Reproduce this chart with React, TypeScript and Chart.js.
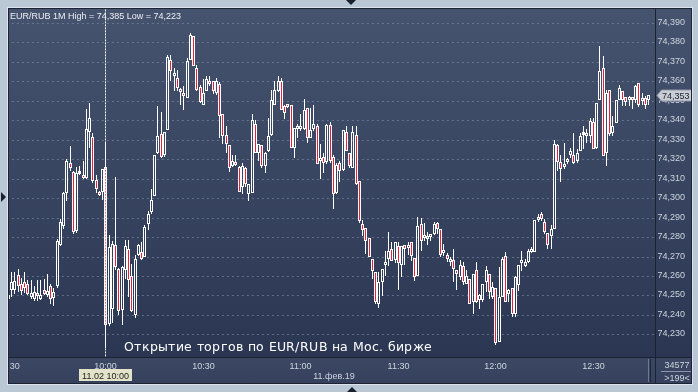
import React, { useEffect, useRef } from 'react';
import { Chart, registerables, CategoryScale, LinearScale } from 'chart.js';

// Scales that snap mark positions to the device pixel grid (crisp 1px candles)
class SnapCategoryScale extends CategoryScale {
  static id = 'snapCategory';
  static defaults = CategoryScale.defaults;
  getPixelForValue(value: any, index?: number) {
    const p = (super.getPixelForValue as any)(value, index);
    return Math.floor(p) + 0.5;
  }
}
class SnapLinearScale extends LinearScale {
  static id = 'snapLinear';
  static defaults = LinearScale.defaults;
  getPixelForValue(value: any) {
    const p = super.getPixelForValue(value);
    return Math.round(p);
  }
}

Chart.register(...registerables, SnapCategoryScale, SnapLinearScale);

// ---- Data (EUR/RUB, 1-minute candles from 09:30) ----
const START_MINUTE = 9 * 60 + 30;
const CATEGORY_COUNT = 199;
const X_TICK_EVERY = 30;

const OPEN = [
  74.248, 74.253, 74.253, 74.2607, 74.256, 74.257, 74.256, 74.249, 74.248, 74.251,
  74.248, 74.253, 74.2503, 74.255, 74.2488, 74.2548, 74.276, 74.2857, 74.3025, 74.318,
  74.3135, 74.283, 74.3125, 74.312, 74.3105, 74.334, 74.3314, 74.3096, 74.3033, 74.303,
  74.316, 74.2355, 74.243, 74.276, 74.2638, 74.2425, 74.263, 74.274, 74.26, 74.24,
  74.2707, 74.2723, 74.2698, 74.2868, 74.2928, 74.301, 74.3231, 74.3328, 74.3221, 74.3349,
  74.3711, 74.363, 74.3618, 74.3558, 74.3538, 74.3516, 74.3711, 74.3831, 74.3669, 74.357,
  74.3481, 74.355, 74.36, 74.36, 74.3541, 74.3589, 74.343, 74.3327, 74.3271, 74.3166,
  74.3188, 74.316, 74.3055, 74.3157, 74.302, 74.3029, 74.3379, 74.3234, 74.3271, 74.3166,
  74.3242, 74.3327, 74.3481, 74.3549, 74.36, 74.3472, 74.3481, 74.3481, 74.3259, 74.3356,
  74.3353, 74.3353, 74.3464, 74.331, 74.3356, 74.337, 74.319, 74.3213, 74.3185, 74.3375,
  74.321, 74.3028, 74.3181, 74.3147, 74.3338, 74.3233, 74.3156, 74.3326, 74.3088, 74.2866,
  74.2846, 74.2798, 74.2687, 74.2619, 74.2457, 74.2568, 74.2657, 74.2687, 74.2738, 74.2684,
  74.2756, 74.2657, 74.2759, 74.2745, 74.2773, 74.2691, 74.2602, 74.2866, 74.2798, 74.279,
  74.2799, 74.2815, 74.2875, 74.2844, 74.272, 74.271, 74.2671, 74.268, 74.2629, 74.2595,
  74.2649, 74.256, 74.2586, 74.2467, 74.2629, 74.2479, 74.2475, 74.2569, 74.2608, 74.2492,
  74.254, 74.2262, 74.2492, 74.2705, 74.2509, 74.254, 74.2407, 74.2552, 74.2666, 74.2654,
  74.2671, 74.2722, 74.2722, 74.2888, 74.2918, 74.288, 74.2819, 74.2805, 74.2843, 74.3272,
  74.3187, 74.3158, 74.3187, 74.3221, 74.322, 74.3192, 74.3243, 74.3323, 74.332, 74.332,
  74.3391, 74.326, 74.3507, 74.3669, 74.3231, 74.3558, 74.3337, 74.3388, 74.3507, 74.355,
  74.352, 74.3507, 74.352, 74.3504, 74.3592, 74.3498, 74.3516, 74.3504,
];

const HIGH = [
  74.251, 74.262, 74.262, 74.2635, 74.259, 74.262, 74.258, 74.258, 74.255, 74.258,
  74.258, 74.2585, 74.261, 74.256, 74.254, 74.279, 74.2895, 74.303, 74.32, 74.327,
  74.314, 74.316, 74.3163, 74.319, 74.346, 74.349, 74.3335, 74.3119, 74.3035, 74.3151,
  74.3287, 74.281, 74.278, 74.3107, 74.2643, 74.2652, 74.2783, 74.2783, 74.266, 74.2706,
  74.2765, 74.2774, 74.286, 74.2936, 74.3047, 74.322, 74.3473, 74.3442, 74.334, 74.3737,
  74.3737, 74.3669, 74.366, 74.3567, 74.3575, 74.372, 74.3851, 74.3835, 74.3686, 74.3584,
  74.361, 74.3626, 74.363, 74.36, 74.362, 74.3595, 74.343, 74.337, 74.3271, 74.322,
  74.322, 74.3166, 74.318, 74.3162, 74.3072, 74.343, 74.3404, 74.3276, 74.3271, 74.3237,
  74.3413, 74.3557, 74.36, 74.3629, 74.3617, 74.3481, 74.3484, 74.3481, 74.3361, 74.3379,
  74.343, 74.351, 74.3464, 74.3464, 74.3481, 74.3379, 74.3276, 74.323, 74.338, 74.339,
  74.322, 74.318, 74.319, 74.335, 74.3369, 74.3233, 74.3369, 74.3369, 74.3088, 74.2888,
  74.2846, 74.2798, 74.2687, 74.2619, 74.2619, 74.2636, 74.273, 74.2827, 74.2773, 74.2773,
  74.2773, 74.2756, 74.2759, 74.2776, 74.2773, 74.2691, 74.2905, 74.29, 74.2875, 74.2824,
  74.2807, 74.2878, 74.2878, 74.2844, 74.2765, 74.2717, 74.27, 74.2739, 74.2629, 74.268,
  74.2671, 74.2629, 74.2586, 74.2612, 74.2671, 74.2509, 74.256, 74.2649, 74.2608, 74.257,
  74.254, 74.2646, 74.27, 74.2722, 74.2535, 74.254, 74.2598, 74.2659, 74.273, 74.2688,
  74.2739, 74.2751, 74.2888, 74.2918, 74.2927, 74.2893, 74.2819, 74.286, 74.3299, 74.3277,
  74.3221, 74.3286, 74.3209, 74.326, 74.3337, 74.3251, 74.3337, 74.3371, 74.3354, 74.3413,
  74.3413, 74.349, 74.378, 74.3732, 74.3558, 74.3558, 74.3422, 74.3504, 74.3579, 74.355,
  74.352, 74.3524, 74.352, 74.3584, 74.3592, 74.3541, 74.3524, 74.3527,
];

const LOW = [
  74.247, 74.249, 74.251, 74.252, 74.25, 74.2515, 74.25, 74.248, 74.247, 74.247,
  74.2475, 74.2505, 74.249, 74.2455, 74.2445, 74.254, 74.2755, 74.284, 74.2985, 74.314,
  74.2816, 74.282, 74.312, 74.31, 74.31, 74.326, 74.308, 74.3028, 74.301, 74.299,
  74.223, 74.2345, 74.236, 74.263, 74.24, 74.2348, 74.2587, 74.2493, 74.2417, 74.2386,
  74.2703, 74.268, 74.2698, 74.2839, 74.292, 74.301, 74.3226, 74.3209, 74.321, 74.3349,
  74.3601, 74.355, 74.355, 74.3481, 74.3452, 74.3516, 74.3711, 74.368, 74.355, 74.349,
  74.348, 74.355, 74.3575, 74.3533, 74.353, 74.3308, 74.3277, 74.3234, 74.3135, 74.3162,
  74.3166, 74.303, 74.302, 74.306, 74.2987, 74.3029, 74.323, 74.319, 74.3157, 74.3128,
  74.3237, 74.3319, 74.3481, 74.3544, 74.3455, 74.3407, 74.3464, 74.3259, 74.3208, 74.331,
  74.3344, 74.335, 74.3285, 74.331, 74.3344, 74.3174, 74.3097, 74.3128, 74.3175, 74.318,
  74.2946, 74.302, 74.3083, 74.314, 74.324, 74.3156, 74.3156, 74.307, 74.2875, 74.2807,
  74.2713, 74.2696, 74.2585, 74.2457, 74.2435, 74.2497, 74.2602, 74.2653, 74.2679, 74.2667,
  74.253, 74.2594, 74.2657, 74.2708, 74.2679, 74.2572, 74.2602, 74.273, 74.278, 74.276,
  74.278, 74.281, 74.2815, 74.2696, 74.2705, 74.2671, 74.2649, 74.2569, 74.2526, 74.258,
  74.2552, 74.2557, 74.2458, 74.2404, 74.246, 74.2433, 74.2467, 74.2518, 74.2484, 74.248,
  74.2245, 74.226, 74.2492, 74.2467, 74.2467, 74.2387, 74.2387, 74.2523, 74.2625, 74.2646,
  74.2666, 74.2717, 74.2722, 74.2876, 74.2884, 74.2816, 74.2739, 74.274, 74.2843, 74.3141,
  74.3081, 74.3149, 74.3175, 74.3209, 74.3175, 74.3183, 74.3243, 74.3251, 74.3286, 74.3286,
  74.3251, 74.3251, 74.3507, 74.3217, 74.3166, 74.332, 74.332, 74.3388, 74.3507, 74.3473,
  74.3473, 74.3476, 74.346, 74.349, 74.347, 74.3481, 74.3459, 74.3481,
];

const CLOSE = [
  74.25, 74.257, 74.2575, 74.2551, 74.2525, 74.2538, 74.251, 74.2515, 74.252, 74.2495,
  74.25, 74.251, 74.2525, 74.248, 74.252, 74.2781, 74.288, 74.3025, 74.319, 74.3155,
  74.2824, 74.3129, 74.313, 74.3105, 74.3357, 74.341, 74.3087, 74.3045, 74.3017, 74.315,
  74.2347, 74.275, 74.2765, 74.2645, 74.242, 74.2647, 74.2754, 74.2579, 74.242, 74.2689,
  74.2761, 74.2689, 74.2851, 74.2919, 74.2993, 74.322, 74.332, 74.3212, 74.334, 74.3723,
  74.3652, 74.364, 74.3567, 74.3546, 74.3527, 74.3703, 74.3839, 74.3681, 74.3558, 74.3493,
  74.3541, 74.3614, 74.3589, 74.355, 74.36, 74.3422, 74.332, 74.3276, 74.3157, 74.3191,
  74.3169, 74.3033, 74.3166, 74.3072, 74.3072, 74.3404, 74.323, 74.3276, 74.3166, 74.323,
  74.3319, 74.3503, 74.3557, 74.36, 74.3455, 74.3438, 74.3469, 74.3259, 74.3361, 74.337,
  74.337, 74.3455, 74.331, 74.335, 74.3379, 74.3174, 74.3208, 74.3179, 74.3375, 74.319,
  74.302, 74.3173, 74.3139, 74.3348, 74.3241, 74.3164, 74.3338, 74.3071, 74.2883, 74.2836,
  74.2778, 74.2696, 74.2628, 74.2466, 74.2568, 74.2636, 74.2666, 74.273, 74.2679, 74.2773,
  74.2667, 74.2756, 74.2739, 74.2759, 74.2704, 74.2594, 74.2858, 74.2781, 74.2807, 74.2807,
  74.2807, 74.2866, 74.2841, 74.2708, 74.273, 74.2688, 74.268, 74.2637, 74.2608, 74.2659,
  74.2569, 74.2598, 74.2458, 74.2608, 74.2467, 74.2501, 74.256, 74.2629, 74.2518, 74.2543,
  74.2257, 74.2492, 74.2688, 74.2467, 74.253, 74.2407, 74.2595, 74.2659, 74.2676, 74.2671,
  74.273, 74.2739, 74.2888, 74.2905, 74.2893, 74.2825, 74.2761, 74.2843, 74.3277, 74.3187,
  74.3149, 74.3175, 74.32, 74.3243, 74.3183, 74.3234, 74.332, 74.3328, 74.3337, 74.3396,
  74.3251, 74.349, 74.3652, 74.3217, 74.3538, 74.3328, 74.3371, 74.3504, 74.3567, 74.3504,
  74.3493, 74.3516, 74.3504, 74.3575, 74.3481, 74.351, 74.3481, 74.353,
];

const Y_MIN = 74.2184;
const Y_MAX = 74.397;
const Y_STEP = 0.01;
const Y_LABEL_FLOOR = 74.225;

const TITLE = 'EUR/RUB 1M High = 74,385 Low = 74,223';
const NOTE = 'Открытие торгов по EUR/RUB на Мос. бирже';
const CURSOR_INDEX = 30;
const CURSOR_LABEL = '11.02 10:00';
const DATE_LABEL = '11.фев.19';
const VOLUME_LABEL = '34577';
const BARS_LABEL = '>199<';

// ---- Styles ----
const FRAME = '#bac7d5';
const RED = '#e8203a';
const WHITE = '#ffffff';
const GRID = 'rgba(128,143,172,0.6)';
const TICK = '#cdd4de';
const FONT = '"Liberation Sans", Arial, sans-serif';

const two = (n: number) => String(n).padStart(2, '0');
const fmtTime = (m: number) => `${two(Math.floor(m / 60))}:${two(m % 60)}`;
const fmtPrice = (v: number) => v.toFixed(3).replace('.', ',');

export default function App() {
  const ref = useRef<HTMLCanvasElement>(null);

  useEffect(() => {
    const canvas = ref.current;
    if (!canvas) return;

    const labels = Array.from({ length: CATEGORY_COUNT }, (_, i) => fmtTime(START_MINUTE + i));
    const bodies = OPEN.map((o, i) => [Math.min(o, CLOSE[i]), Math.max(o, CLOSE[i])]);
    const upper = OPEN.map((o, i) => [Math.max(o, CLOSE[i]), HIGH[i]]);
    const lower = OPEN.map((o, i) => [LOW[i], Math.min(o, CLOSE[i])]);
    const fills = OPEN.map((o, i) => (CLOSE[i] < o ? RED : 'rgba(0,0,0,0)'));

    const decor = {
      id: 'decor',
      beforeDatasetsDraw(chart: any) {
        const ctx = chart.ctx;
        ctx.save();
        ctx.font = `9px ${FONT}`;
        ctx.fillStyle = '#eceff4';
        ctx.textBaseline = 'alphabetic';
        ctx.textAlign = 'left';
        ctx.fillText(TITLE, 10, 18.5);
        ctx.restore();
      },
      afterDatasetsDraw(chart: any) {
        const { ctx, chartArea, scales } = chart;
        const x = Math.floor(scales.x.getPixelForValue(CURSOR_INDEX)) + 0.5;
        ctx.save();
        ctx.strokeStyle = '#f4f4f4';
        ctx.lineWidth = 1;
        ctx.setLineDash([2, 1]);
        ctx.beginPath();
        ctx.moveTo(x, chartArea.top);
        ctx.lineTo(x, chartArea.bottom);
        ctx.stroke();
        ctx.restore();
      },
      afterDraw(chart: any) {
        const { ctx, scales } = chart;
        ctx.save();
        // last price tag
        const last = CLOSE[CLOSE.length - 1];
        const y = Math.round(scales.y.getPixelForValue(last)) + 0.5;
        ctx.beginPath();
        ctx.moveTo(657, y);
        ctx.lineTo(661.5, y - 5.5);
        ctx.lineTo(697, y - 5.5);
        ctx.lineTo(697, y + 5.5);
        ctx.lineTo(661.5, y + 5.5);
        ctx.closePath();
        ctx.fillStyle = '#c9cdd5';
        ctx.fill();
        ctx.strokeStyle = '#8e95a5';
        ctx.lineWidth = 1;
        ctx.stroke();
        ctx.font = `9px ${FONT}`;
        ctx.fillStyle = '#1b1f2a';
        ctx.textAlign = 'left';
        ctx.textBaseline = 'alphabetic';
        ctx.fillText(fmtPrice(last), 662, y + 3.3);

        // cursor time box
        const cx = Math.floor(scales.x.getPixelForValue(CURSOR_INDEX)) + 0.5;
        ctx.fillStyle = '#e3e3c9';
        ctx.fillRect(cx - 26.5, 369, 53, 12);
        ctx.fillStyle = '#1c1c1c';
        ctx.textAlign = 'center';
        ctx.fillText(CURSOR_LABEL, cx, 378.5);

        // date label
        ctx.fillStyle = TICK;
        ctx.fillText(DATE_LABEL, 334, 379.3);

        // volume / bar count box
        ctx.fillText(VOLUME_LABEL, 677, 368.3);
        ctx.fillText(BARS_LABEL, 677, 381);
        ctx.strokeStyle = '#8a93a8';
        ctx.beginPath();
        ctx.moveTo(661, 371.5);
        ctx.lineTo(692, 371.5);
        ctx.stroke();

        // annotation text
        ctx.font = '12.5px "DejaVu Sans", sans-serif';
        ctx.fillStyle = '#ffffff';
        ctx.textAlign = 'left';
        const chars = Array.from(NOTE);
        const widths = chars.map((c) => ctx.measureText(c).width);
        const total = widths.reduce((a, b) => a + b, 0);
        const spacing = (308 - total) / (chars.length - 1);
        let x = 124;
        chars.forEach((c, i) => {
          ctx.fillText(c, Math.round(x), 351);
          x += widths[i] + spacing;
        });
        ctx.restore();
      },
    };

    const chart = new Chart(canvas, {
      type: 'bar',
      data: {
        labels,
        datasets: [
          {
            label: 'body',
            data: bodies as any,
            backgroundColor: fills,
            borderColor: WHITE,
            borderWidth: 1,
            borderSkipped: false,
            barThickness: 3,
            grouped: false,
            minBarLength: 3,
            inflateAmount: 0,
            order: 0,
          } as any,
          {
            label: 'upper',
            data: upper as any,
            backgroundColor: WHITE,
            borderWidth: 0,
            barThickness: 1,
            grouped: false,
            inflateAmount: 0,
            order: 1,
          } as any,
          {
            label: 'lower',
            data: lower as any,
            backgroundColor: WHITE,
            borderWidth: 0,
            barThickness: 1,
            grouped: false,
            inflateAmount: 0,
            order: 1,
          } as any,
        ],
      },
      options: {
        animation: false,
        responsive: false,
        devicePixelRatio: 1,
        events: [],
        layout: { padding: { left: 6.875, right: 6.4, top: 8, bottom: 8 } },
        plugins: { legend: { display: false }, tooltip: { enabled: false } },
        scales: {
          x: {
            type: 'snapCategory',
            offset: true,
            border: { display: false, dash: [2, 3] },
            grid: {
              offset: false,
              drawTicks: false,
              lineWidth: 1,
              color: (c: any) => (c.index % X_TICK_EVERY === 0 ? GRID : 'rgba(0,0,0,0)'),
            },
            ticks: {
              autoSkip: false,
              maxRotation: 0,
              minRotation: 0,
              padding: 4,
              color: TICK,
              font: { family: FONT, size: 9 },
              callback: (_v: any, i: number) => (i % X_TICK_EVERY === 0 ? labels[i] : null),
            },
            afterFit: (s: any) => {
              s.height = 27;
              s.paddingLeft = 0;
              s.paddingRight = 0;
            },
          } as any,
          y: {
            type: 'snapLinear',
            position: 'right',
            min: Y_MIN,
            max: Y_MAX,
            border: { display: false, dash: [2, 3] },
            grid: { drawTicks: false, color: GRID, lineWidth: 1 },
            ticks: {
              stepSize: Y_STEP,
              includeBounds: false,
              padding: 4,
              color: TICK,
              font: { family: FONT, size: 9 },
              callback: (v: any) => (Number(v) < Y_LABEL_FLOOR ? null : fmtPrice(Number(v))),
            },
            afterFit: (s: any) => {
              s.width = 38;
            },
          } as any,
        },
      },
      plugins: [decor],
    });

    return () => chart.destroy();
  }, []);

  const tri = (style: React.CSSProperties): React.CSSProperties => ({
    position: 'absolute',
    width: 0,
    height: 0,
    ...style,
  });

  return (
    <div
      style={{
        position: 'fixed',
        left: 0,
        top: 0,
        width: 698,
        height: 392,
        background: FRAME,
        overflow: 'hidden',
      }}
    >
      <div
        style={{
          position: 'absolute',
          left: 8,
          top: 8,
          width: 684,
          height: 376,
          boxSizing: 'border-box',
          border: '1px solid #1c2334',
          boxShadow: '0 0 0 1px #dbe3ec',
          background: 'linear-gradient(180deg, #46536e 0px, #2b3752 348px)',
          overflow: 'hidden',
        }}
      >
        <div
          style={{
            position: 'absolute',
            left: 0,
            top: 348,
            width: 682,
            height: 26,
            background: 'linear-gradient(180deg, #3c4863, #36425d)',
          }}
        />
        <div style={{ position: 'absolute', left: 0, top: 348, width: 682, height: 1, background: '#1b2233' }} />
        <div style={{ position: 'absolute', left: 646, top: 0, width: 1, height: 374, background: '#1b2233' }} />
        <div
          style={{
            position: 'absolute',
            left: 639,
            top: 350,
            width: 3,
            height: 23,
            boxSizing: 'border-box',
            borderLeft: '1px solid #6d7891',
            borderRight: '1px solid #1e2536',
          }}
        />
        <canvas
          ref={ref}
          width={698}
          height={392}
          style={{ position: 'absolute', left: -9, top: -9, width: 698, height: 392 }}
        />
      </div>
      <div
        style={tri({
          left: 346,
          top: 0,
          borderLeft: '5px solid transparent',
          borderRight: '5px solid transparent',
          borderTop: '5px solid #1a2030',
        })}
      />
      <div
        style={tri({
          left: 347,
          top: 387,
          borderLeft: '5px solid transparent',
          borderRight: '5px solid transparent',
          borderBottom: '5px solid #1a2030',
        })}
      />
      <div
        style={tri({
          left: 1,
          top: 192,
          borderTop: '5px solid transparent',
          borderBottom: '5px solid transparent',
          borderLeft: '5px solid #1a2030',
        })}
      />
    </div>
  );
}
